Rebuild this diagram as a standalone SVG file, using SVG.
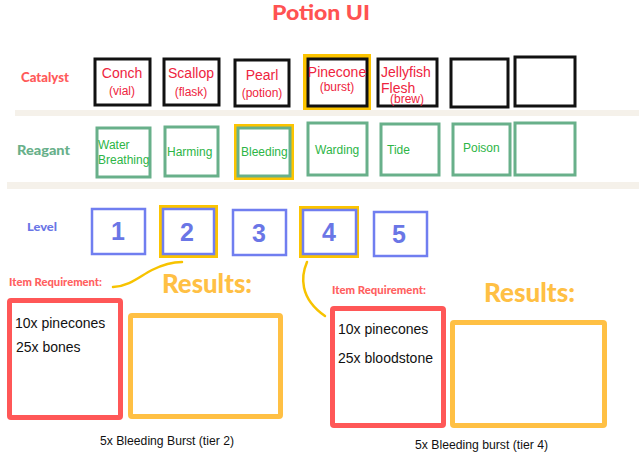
<svg xmlns="http://www.w3.org/2000/svg" width="639" height="473" viewBox="0 0 639 473">
<style>
.hdr{font-family:Lato,"Open Sans",sans-serif;font-weight:900}
.cat{fill:none;stroke:#111;stroke-width:3}
.rea{fill:none;stroke:#68b08a;stroke-width:3}
.lvl{fill:none;stroke:#707ef0;stroke-width:2.5}
.sel{fill:none;stroke:#fcc400;stroke-width:4}
.ct{font-family:"Liberation Sans",Arial,sans-serif;fill:#ee2440;text-anchor:middle}
.cs{font-family:"Liberation Sans",Arial,sans-serif;fill:#ee2440;text-anchor:start}
.rt{font-family:"Liberation Sans",Arial,sans-serif;fill:#2db546;font-size:12px}
.lt{font-family:"Liberation Sans",Arial,sans-serif;fill:#6a76e6;font-size:25px;font-weight:bold;text-anchor:middle}
.req{fill:none;stroke:#ff5757;stroke-width:5}
.res{fill:none;stroke:#ffc044;stroke-width:5}
.bt{font-family:"Liberation Sans",Arial,sans-serif;fill:#111;font-size:14px}
.cap{font-family:"Liberation Sans",Arial,sans-serif;fill:#111;font-size:12px}
.curve{fill:none;stroke:#f7c300;stroke-width:2.5;stroke-linecap:round}
</style>
<rect width="639" height="473" fill="#fff"/>
<rect x="15" y="110" width="624" height="6" fill="#f5f1ea"/>
<rect x="7" y="182" width="632" height="7" fill="#f5f1ea"/>
<text id="title" class="hdr" x="272" y="20" font-size="21" fill="#ff5252" textLength="98" lengthAdjust="spacingAndGlyphs">Potion UI</text>
<g id="catalyst-label"><text class="hdr" x="21" y="82" font-size="12.5" fill="#ff5a5a" textLength="48" lengthAdjust="spacingAndGlyphs">Catalyst</text></g>
<g id="reagant-label"><text class="hdr" x="17" y="155" font-size="13" fill="#68b08a" textLength="53" lengthAdjust="spacingAndGlyphs">Reagant</text></g>
<g id="level-label"><text class="hdr" x="27" y="231" font-size="11.5" fill="#6a76e6" textLength="30" lengthAdjust="spacingAndGlyphs">Level</text></g>

<g id="cat-conch"><rect class="cat" x="95" y="59" width="55" height="46"/><text class="ct" x="122" y="78" font-size="14">Conch</text><text class="ct" x="122" y="95" font-size="12">(vial)</text></g>
<g id="cat-scallop"><rect class="cat" x="164" y="59" width="55" height="46"/><text class="ct" x="191" y="78" font-size="14">Scallop</text><text class="ct" x="191" y="96" font-size="12">(flask)</text></g>
<g id="cat-pearl"><rect class="cat" x="235" y="60" width="54" height="46"/><text class="ct" x="262" y="80" font-size="14">Pearl</text><text class="ct" x="262" y="97" font-size="12">(potion)</text></g>
<g id="cat-pinecone"><rect class="sel" x="305" y="56" width="64" height="52"/><rect class="cat" x="308" y="59" width="59" height="47"/><text class="ct" x="337" y="77" font-size="14">Pinecone</text><text class="ct" x="337" y="91" font-size="12">(burst)</text></g>
<g id="cat-jellyfish"><rect class="cat" x="378" y="59" width="59" height="47"/><text class="cs" x="381" y="77" font-size="14">Jellyfish</text><text class="cs" x="381" y="93" font-size="14">Flesh</text><text class="ct" x="407" y="103" font-size="12">(brew)</text></g>
<g id="cat-empty1"><rect class="cat" x="451" y="59" width="57" height="48"/></g>
<g id="cat-empty2"><rect class="cat" x="515" y="57" width="60" height="49"/></g>

<g id="rea-water"><rect class="rea" x="97" y="128" width="53" height="49"/><text class="rt" x="98" y="149">Water</text><text class="rt" x="98" y="164">Breathing</text></g>
<g id="rea-harming"><rect class="rea" x="165" y="127" width="53" height="49"/><text class="rt" x="167" y="156">Harming</text></g>
<g id="rea-bleeding"><rect class="sel" x="236" y="126" width="56" height="52"/><rect class="rea" x="238" y="128" width="52" height="48"/><text class="rt" x="241" y="156">Bleeding</text></g>
<g id="rea-warding"><rect class="rea" x="308" y="123" width="59" height="52"/><text class="rt" x="315" y="154">Warding</text></g>
<g id="rea-tide"><rect class="rea" x="381" y="124" width="58" height="51"/><text class="rt" x="387" y="154">Tide</text></g>
<g id="rea-poison"><rect class="rea" x="453" y="124" width="57" height="51"/><text class="rt" x="463" y="152">Poison</text></g>
<g id="rea-empty"><rect class="rea" x="515" y="123" width="60" height="52"/></g>

<g id="lvl-1"><rect class="lvl" x="92" y="209" width="53" height="45"/><text class="lt" x="118" y="240">1</text></g>
<g id="lvl-2"><rect class="sel" x="161" y="207" width="55" height="49"/><rect class="lvl" x="163" y="209" width="51" height="45"/><text class="lt" x="187" y="241">2</text></g>
<g id="lvl-3"><rect class="lvl" x="233" y="210" width="53" height="45"/><text class="lt" x="259" y="242">3</text></g>
<g id="lvl-4"><rect class="sel" x="301" y="208" width="56" height="48"/><rect class="lvl" x="303" y="210" width="53" height="44"/><text class="lt" x="329" y="241">4</text></g>
<g id="lvl-5"><rect class="lvl" x="374" y="212" width="53" height="44"/><text class="lt" x="399" y="243">5</text></g>

<g id="connectors">
<path class="curve" d="M113,287 C130,286 140,276 152,270 C162,265 172,262 182,262"/>
<path class="curve" d="M307,262 C301,276 299,298 325,316"/>
</g>

<g id="result-tier2">
<text class="hdr" x="9" y="286" font-size="10.5" fill="#ff6060" textLength="93" lengthAdjust="spacingAndGlyphs">Item Requirement:</text>
<rect class="req" x="9.5" y="300.5" width="111" height="117" rx="1.5"/>
<text class="bt" x="15" y="328">10x pinecones</text>
<text class="bt" x="16" y="352">25x bones</text>
<text class="hdr" x="162" y="293" font-size="27" fill="#ffc044" textLength="90" lengthAdjust="spacingAndGlyphs">Results:</text>
<rect class="res" x="130.5" y="315.5" width="150" height="101" rx="1.5"/>
<text class="cap" x="100" y="445" textLength="134" lengthAdjust="spacingAndGlyphs">5x Bleeding Burst (tier 2)</text>
</g>

<g id="result-tier4">
<text class="hdr" x="332" y="294" font-size="10.5" fill="#ff6060" textLength="94" lengthAdjust="spacingAndGlyphs">Item Requirement:</text>
<rect class="req" x="332.5" y="308.5" width="111" height="117" rx="1.5"/>
<text class="bt" x="338" y="334">10x pinecones</text>
<text class="bt" x="338" y="363">25x bloodstone</text>
<text class="hdr" x="484" y="302" font-size="27" fill="#ffc044" textLength="91" lengthAdjust="spacingAndGlyphs">Results:</text>
<rect class="res" x="452.5" y="322.5" width="152" height="103" rx="1.5"/>
<text class="cap" x="415" y="449" textLength="133" lengthAdjust="spacingAndGlyphs">5x Bleeding burst (tier 4)</text>
</g>
</svg>
